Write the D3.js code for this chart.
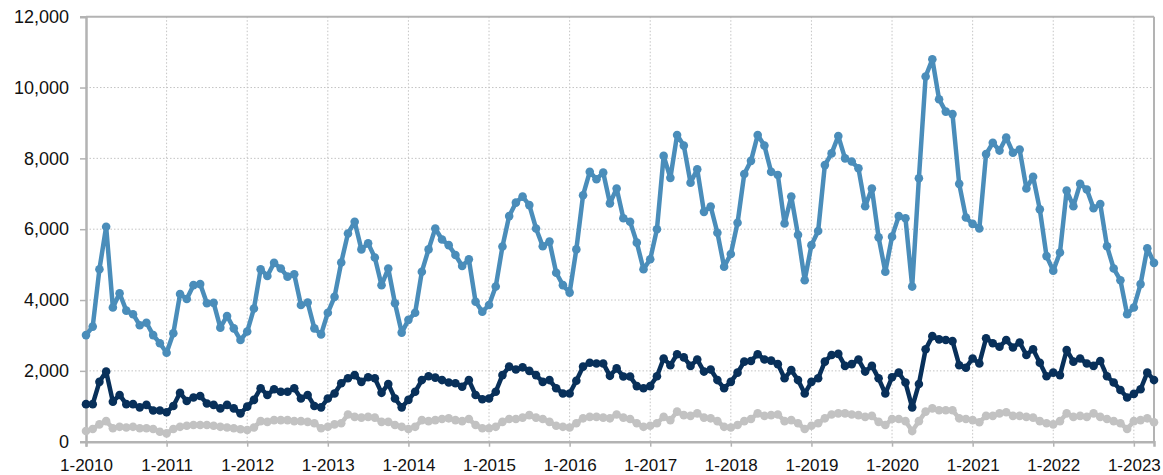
<!DOCTYPE html>
<html>
<head>
<meta charset="utf-8">
<script src="https://cdn.jsdelivr.net/npm/d3@7"></script>
<style>
  html, body { margin: 0; padding: 0; background: #fff; }
  svg { display: block; font-family: "Liberation Sans", Arial, Helvetica, sans-serif; }
</style>
</head>
<body>
<svg id="chart" width="1163" height="475"></svg>
<script>
// ---- data (monthly, 1-2010 .. 4-2023) ----
const startYear = 2010;
const seriesBlue = [
  3010, 3250, 4870, 6070, 3790, 4190, 3700, 3600, 3290, 3360, 3010, 2780,
  2510, 3060, 4170, 4030, 4420, 4450, 3910, 3920, 3220, 3550, 3200, 2870,
  3110, 3760, 4870, 4680, 5050, 4890, 4660, 4730, 3860, 3930, 3200, 3030,
  3640, 4090, 5060, 5880, 6210, 5430, 5600, 5200, 4420, 4890, 3910, 3080,
  3440, 3640, 4800, 5430, 6020, 5710, 5550, 5270, 4960, 5150, 3950, 3670,
  3860, 4380, 5510, 6370, 6750, 6920, 6680, 6020, 5520, 5650, 4770, 4420,
  4210, 5430, 6960, 7620, 7410, 7600, 6730, 7150, 6310, 6210, 5620, 4870,
  5150, 6000, 8070, 7450, 8660, 8360, 7310, 7690, 6490, 6640, 5900, 4940,
  5300, 6180, 7560, 7930, 8660, 8360, 7620, 7530, 6160, 6920, 5840, 4560,
  5550, 5950, 7810, 8140, 8630, 8000, 7910, 7720, 6650, 7150, 5770, 4800,
  5790, 6370, 6310, 4380, 7440, 10310, 10800, 9670, 9320, 9250, 7280, 6330,
  6150, 6020, 8120, 8440, 8220, 8590, 8160, 8250, 7150, 7480, 6560, 5240,
  4830, 5340, 7090, 6650, 7280, 7120, 6590, 6710, 5520, 4890, 4560, 3600,
  3790, 4450, 5460, 5050
];
const seriesNavy = [
  1060, 1060, 1690, 1980, 1130, 1320, 1060, 1060, 970, 1040, 880, 880,
  830, 1010, 1380, 1150, 1250, 1290, 1080, 1040, 940, 1040, 940, 800,
  990, 1180, 1510, 1320, 1480, 1410, 1410, 1510, 1220, 1320, 1010, 970,
  1220, 1360, 1650, 1790, 1880, 1690, 1820, 1790, 1380, 1630, 1220, 970,
  1180, 1410, 1740, 1850, 1810, 1740, 1670, 1650, 1550, 1740, 1320, 1200,
  1220, 1410, 1880, 2120, 2040, 2100, 2000, 1880, 1690, 1740, 1510, 1360,
  1360, 1720, 2120, 2230, 2210, 2210, 1860, 2070, 1840, 1840, 1570, 1510,
  1570, 1850, 2350, 2160, 2470, 2380, 2140, 2320, 1980, 2040, 1740, 1510,
  1690, 1950, 2260, 2280, 2470, 2320, 2290, 2190, 1790, 2020, 1740, 1360,
  1690, 1790, 2260, 2450, 2480, 2140, 2190, 2320, 1980, 2140, 1790, 1360,
  1820, 1950, 1670, 970, 1630, 2610, 2980, 2890, 2870, 2840, 2160, 2090,
  2350, 2210, 2920, 2780, 2680, 2870, 2660, 2800, 2450, 2610, 2230, 1850,
  1950, 1880, 2590, 2260, 2350, 2210, 2140, 2280, 1850, 1670, 1460, 1250,
  1350, 1480, 1950, 1740
];
const seriesGray = [
  300, 360, 490, 580, 380, 420, 400, 420, 380, 380, 360, 280,
  235, 360, 420, 450, 470, 470, 470, 450, 420, 400, 380, 350,
  330, 400, 580, 560, 610, 610, 610, 580, 580, 560, 520, 380,
  420, 490, 520, 770, 700, 680, 700, 680, 560, 560, 470, 420,
  360, 420, 610, 580, 610, 640, 660, 610, 580, 640, 470, 380,
  380, 420, 560, 640, 640, 680, 750, 680, 640, 560, 450, 420,
  400, 520, 660, 700, 700, 680, 660, 770, 680, 640, 520, 420,
  450, 520, 700, 610, 850, 750, 730, 800, 680, 660, 580, 420,
  400, 470, 580, 640, 800, 730, 750, 770, 580, 610, 520, 360,
  450, 520, 660, 770, 800, 800, 770, 750, 700, 730, 560, 470,
  640, 640, 580, 300, 580, 850, 940, 890, 890, 890, 660, 640,
  610, 550, 730, 730, 800, 830, 730, 730, 700, 680, 580, 520,
  490, 580, 800, 700, 730, 700, 800, 700, 640, 580, 520, 360,
  580, 610, 660, 550
];
const yTicks = [0, 2000, 4000, 6000, 8000, 10000, 12000];
const xTickLabels = ["1-2010","1-2011","1-2012","1-2013","1-2014","1-2015","1-2016",
                     "1-2017","1-2018","1-2019","1-2020","1-2021","1-2022","1-2023"];

// ---- layout ----
const W = 1163, H = 475;
const m = { left: 86, right: 9, top: 16.7, bottom: 33.3 };
const svg = d3.select("#chart");
const iw = W - m.left - m.right, ih = H - m.top - m.bottom;
const g = svg.append("g").attr("transform", `translate(${m.left},${m.top})`);

const n = seriesBlue.length;
const x = d3.scaleLinear().domain([0, n - 1]).range([0, iw]);
const y = d3.scaleLinear().domain([0, 12000]).range([ih, 0]);
const xTickIdx = xTickLabels.map((_, i) => i * 12);

// grid
g.append("g").selectAll("line").data(yTicks.slice(1, -1)).join("line")
  .attr("x1", 0).attr("x2", iw).attr("y1", d => y(d)).attr("y2", d => y(d))
  .attr("stroke", "#c4c4c4").attr("stroke-width", 1).attr("stroke-dasharray", "1.5,2");
g.append("g").selectAll("line").data(xTickIdx.slice(1)).join("line")
  .attr("y1", 0).attr("y2", ih).attr("x1", d => x(d)).attr("x2", d => x(d))
  .attr("stroke", "#c4c4c4").attr("stroke-width", 1).attr("stroke-dasharray", "1.5,2");

// frame top/right
g.append("line").attr("x1", 0).attr("x2", iw).attr("y1", 0).attr("y2", 0)
  .attr("stroke", "#b3b3b3").attr("stroke-width", 2);
g.append("line").attr("x1", iw).attr("x2", iw).attr("y1", 0).attr("y2", ih)
  .attr("stroke", "#b3b3b3").attr("stroke-width", 2);

// axes
const yAxis = d3.axisLeft(y).tickValues(yTicks).tickSize(6).tickPadding(11)
  .tickFormat(d3.format(","));
const ya = g.append("g").call(yAxis);
ya.select(".domain").attr("stroke", "#b3b3b3").attr("stroke-width", 2.5);
ya.selectAll(".tick line").attr("stroke", "#b3b3b3").attr("stroke-width", 1.5);
ya.selectAll("text").attr("font-size", 18).attr("fill", "#111")
  .attr("font-family", "'Liberation Sans', Arial, sans-serif");

const xAxis = d3.axisBottom(x).tickValues(xTickIdx).tickSize(5).tickPadding(12)
  .tickFormat((d, i) => xTickLabels[i]);
const xa = g.append("g").attr("transform", `translate(0,${ih})`).call(xAxis);
xa.select(".domain").attr("stroke", "#b3b3b3").attr("stroke-width", 2.5);
xa.selectAll(".tick line").attr("stroke", "#b3b3b3").attr("stroke-width", 1.5);
xa.selectAll("text").attr("font-size", 17).attr("fill", "#111")
  .attr("font-family", "'Liberation Sans', Arial, sans-serif");

// series
const series = [
  { data: seriesGray, color: "#c2c2c2" },
  { data: seriesNavy, color: "#08305a" },
  { data: seriesBlue, color: "#4a8dba" }
];
const line = d3.line().x((d, i) => x(i)).y(d => y(d));
series.forEach(s => {
  const sg = g.append("g");
  sg.append("path").datum(s.data).attr("d", line)
    .attr("fill", "none").attr("stroke", s.color).attr("stroke-width", 4.5)
    .attr("stroke-linejoin", "round");
  sg.selectAll("circle").data(s.data).join("circle")
    .attr("cx", (d, i) => x(i)).attr("cy", d => y(d)).attr("r", 4.3)
    .attr("fill", s.color);
});
</script>
</body>
</html>
